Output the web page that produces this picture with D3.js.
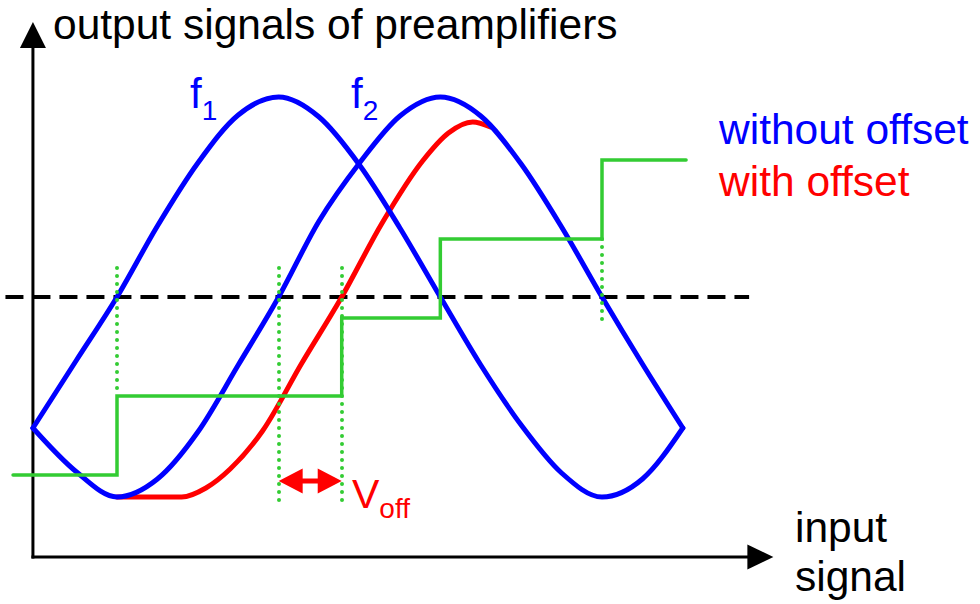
<!DOCTYPE html>
<html lang="en">
<head>
<meta charset="utf-8">
<title>Output signals of preamplifiers</title>
<script src="https://d3js.org/d3.v7.min.js"></script>
<style>
  body { margin: 0; padding: 0; background: white; }
  svg { display: block; font-family: "Liberation Sans", Arial, sans-serif; }
</style>
</head>
<body>
<div id="chart"></div>
<script>
// input signal in units of a quarter period, output normalised to the amplitude
const f1Points = [
  [-0.52, -0.655], [-0.25, -0.315], [0, 0], [0.25, 0.355], [0.5, 0.67],
  [0.75, 0.91], [1.0, 1.0], [1.25, 0.9], [1.5, 0.66], [1.75, 0.345],
  [2.0, 0], [2.25, -0.34], [2.5, -0.64], [2.75, -0.88], [3.0, -1.0],
  [3.25, -0.91], [3.5, -0.655]
];
const f2Points = [
  [-0.52, -0.655], [-0.25, -0.875], [0, -1.0], [0.25, -0.91], [0.5, -0.675],
  [0.75, -0.34], [1.0, 0], [1.25, 0.38], [1.5, 0.67], [1.75, 0.905],
  [2.0, 1.0], [2.25, 0.905], [2.5, 0.665], [2.75, 0.35], [3.0, 0],
  [3.25, -0.335], [3.5, -0.655]
];
const f2OffsetPoints = [
  [0, -1.0], [0.2, -1.0], [0.4, -1.0], [0.55, -0.955], [0.7, -0.86],
  [0.9, -0.67], [1.14, -0.335], [1.39, 0], [1.64, 0.37], [1.89, 0.68],
  [2.05, 0.82], [2.2, 0.875], [2.31, 0.85]
];
const stepEdges = [-0.643, 0, 1.39, 2.0, 3.0, 3.52];
const stepLevels = [-0.89, -0.495, -0.105, 0.29, 0.685];
const threshold = 0;
const thresholdSpan = [-0.69, 3.91];
// dotted markers: [input, top, bottom]
const markers = [[0, 0.145, -0.495], [1.0, 0.145, -1.025], [1.39, 0.145, -1.025], [3.0, 0.29, -0.115]];
const offsetSpan = [1.0, 1.39];
const offsetLevel = -0.92;
const axisOrigin = [-0.52, -1.3];
const axisEnd = [4.06, 1.375];

const w = 980, h = 604;
const blue = "#0000ff", red = "#ff0000", green = "#33cc33";

const x = d3.scaleLinear().domain([0, 3]).range([117, 602]);
const y = d3.scaleLinear().domain([-1, 1]).range([497, 97]);

const svg = d3.select("#chart").append("svg")
  .attr("width", w)
  .attr("height", h);

const line = d3.line()
  .x(d => x(d[0]))
  .y(d => y(d[1]))
  .curve(d3.curveMonotoneX);

// axes
const x0 = x(axisOrigin[0]), y0 = y(axisOrigin[1]);
const xe = x(axisEnd[0]), ye = y(axisEnd[1]);
svg.append("line")
  .attr("x1", x0).attr("y1", y0 + 1.5).attr("x2", x0).attr("y2", ye + 24)
  .attr("stroke", "black").attr("stroke-width", 3);
svg.append("line")
  .attr("x1", x0 - 1.5).attr("y1", y0).attr("x2", xe - 24).attr("y2", y0)
  .attr("stroke", "black").attr("stroke-width", 3);
svg.append("path")
  .attr("d", `M${x0},${ye} L${x0 + 13},${ye + 26} L${x0 - 13},${ye + 26} Z`)
  .attr("fill", "black");
svg.append("path")
  .attr("d", `M${xe},${y0} L${xe - 26},${y0 - 12.5} L${xe - 26},${y0 + 12.5} Z`)
  .attr("fill", "black");

// threshold
svg.append("line")
  .attr("x1", x(thresholdSpan[0])).attr("x2", x(thresholdSpan[1]))
  .attr("y1", y(threshold)).attr("y2", y(threshold))
  .attr("stroke", "black").attr("stroke-width", 4)
  .attr("stroke-dasharray", "18 9");

// curves
svg.append("path").datum(f2OffsetPoints)
  .attr("d", line).attr("fill", "none")
  .attr("stroke", red).attr("stroke-width", 5).attr("stroke-linecap", "round");
[f1Points, f2Points].forEach(pts => {
  svg.append("path").datum(pts)
    .attr("d", line).attr("fill", "none")
    .attr("stroke", blue).attr("stroke-width", 5)
    .attr("stroke-linejoin", "round").attr("stroke-linecap", "round");
});

// staircase
const stepData = stepEdges.map((e, i) => [e, stepLevels[Math.min(i, stepLevels.length - 1)]]);
svg.append("path").datum(stepData)
  .attr("d", d3.line().x(d => x(d[0])).y(d => y(d[1])).curve(d3.curveStepAfter))
  .attr("fill", "none").attr("stroke", green).attr("stroke-width", 3.5)
  .attr("stroke-linecap", "round");

// dotted markers
svg.selectAll(".marker").data(markers).enter().append("line")
  .attr("class", "marker")
  .attr("x1", d => Math.round(x(d[0]))).attr("x2", d => Math.round(x(d[0])))
  .attr("y1", d => y(d[1])).attr("y2", d => y(d[2]))
  .attr("stroke", green).attr("stroke-width", 4)
  .attr("stroke-linecap", "round").attr("stroke-dasharray", "0 8");

// offset double arrow
const ax1 = x(offsetSpan[0]), ax2 = x(offsetSpan[1]), ay = y(offsetLevel);
svg.append("line")
  .attr("x1", ax1 + 20).attr("x2", ax2 - 20).attr("y1", ay).attr("y2", ay)
  .attr("stroke", red).attr("stroke-width", 5);
svg.append("path")
  .attr("d", `M${ax1},${ay} L${ax1 + 24},${ay - 12.5} L${ax1 + 24},${ay + 12.5} Z M${ax2},${ay} L${ax2 - 24},${ay - 12.5} L${ax2 - 24},${ay + 12.5} Z`)
  .attr("fill", red);

// text
const big = 42.5, sub = 28;
svg.append("text").attr("x", 53).attr("y", 39).attr("font-size", big)
  .text("output signals of preamplifiers");
svg.append("text").attr("x", 719).attr("y", 144).attr("font-size", big).attr("fill", blue)
  .text("without offset");
svg.append("text").attr("x", 719).attr("y", 196).attr("font-size", big).attr("fill", red)
  .text("with offset");
svg.append("text").attr("x", 795).attr("y", 542).attr("font-size", big).text("input");
svg.append("text").attr("x", 795).attr("y", 591).attr("font-size", big).text("signal");

const labels = [["f", "1", 190, 108, blue, 42], ["f", "2", 351, 108, blue, 42], ["V", "off", 352, 508, red, 41]];
labels.forEach(([main, s, lx, ly, col, fs]) => {
  const t = svg.append("text").attr("x", lx).attr("y", ly).attr("fill", col).attr("font-size", fs);
  t.append("tspan").text(main);
  t.append("tspan").attr("dy", ly === 508 ? 10 : 12).attr("font-size", sub).text(s);
});
</script>
</body>
</html>
